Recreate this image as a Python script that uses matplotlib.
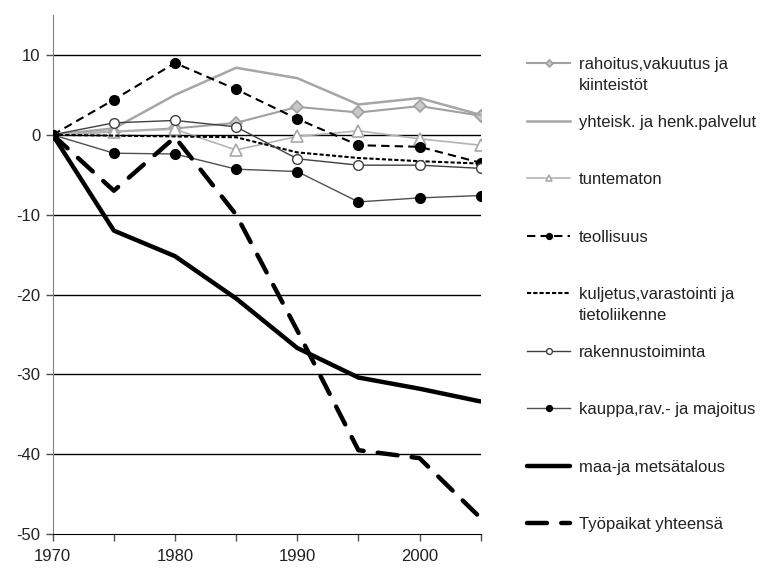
import matplotlib
matplotlib.use("Agg")
import matplotlib.pyplot as plt

plt.rcParams['font.family'] = ['Liberation Sans', 'DejaVu Sans']
plt.rcParams['axes.unicode_minus'] = False

# data (change since 1970)
years = [1970, 1975, 1980, 1985, 1990, 1995, 2000, 2005]
rahoitus = [0, 0.4, 0.8, 1.5, 3.5, 2.8, 3.6, 2.4]
yhteisk = [0, 0.8, 5.0, 8.4, 7.1, 3.8, 4.6, 2.5]
tuntematon = [0, 0.4, 0.7, -1.9, -0.2, 0.5, -0.5, -1.3]
teollisuus = [0, 4.4, 9.0, 5.7, 2.0, -1.3, -1.5, -3.5]
kuljetus = [0, -0.1, -0.2, -0.3, -2.2, -2.9, -3.3, -3.6]
rakennus = [0, 1.5, 1.8, 1.0, -3.0, -3.8, -3.8, -4.2]
kauppa = [0, -2.3, -2.4, -4.3, -4.6, -8.4, -7.9, -7.6]
maa = [0, -12.0, -15.2, -20.5, -26.7, -30.4, -31.8, -33.4]
tyopaikat = [0, -7.0, -0.3, -10.0, -24.5, -39.5, -40.5, -48.0]

labels = ["rahoitus,vakuutus ja", "yhteisk. ja henk.palvelut", "tuntematon",
          "teollisuus", "kuljetus,varastointi ja", "rakennustoiminta",
          "kauppa,rav.- ja majoitus", "maa-ja metsätalous", "Työpaikat yhteensä"]
extra = {0: "kiinteistöt", 4: "tietoliikenne"}

fig = plt.figure(figsize=(7.71, 5.69), dpi=100)
ax = fig.add_axes([0.0684, 0.0615, 0.555, 0.912])

for yv in range(-40, 11, 10):
    ax.axhline(yv, color='black', lw=1.0, zorder=1)

h = []
h += ax.plot(years, rahoitus, color='#a0a0a0', lw=1.5, marker='D', ms=6,
             mfc='#c8c8c8', mec='#a0a0a0', mew=1.2, zorder=3)
h += ax.plot(years, yhteisk, color='#a6a6a6', lw=1.8, zorder=3)
h += ax.plot(years, tuntematon, color='#b4b4b4', lw=1.2, marker='^', ms=8,
             mfc='white', mec='#a8a8a8', mew=1.2, zorder=3)
h += ax.plot(years, teollisuus, color='black', lw=1.5, ls=(0, (4, 2.5)),
             marker='o', ms=7, mfc='black', mec='black', zorder=4)
h += ax.plot(years, kuljetus, color='black', lw=1.5, ls=(0, (2, 1)), zorder=4)
h += ax.plot(years, rakennus, color='#404040', lw=1.0, marker='o', ms=7,
             mfc='white', mec='#404040', mew=1.0, zorder=4)
h += ax.plot(years, kauppa, color='#505050', lw=1.0, marker='o', ms=7,
             mfc='black', mec='black', zorder=4)
h += ax.plot(years, maa, color='black', lw=3.2, solid_capstyle='round', zorder=5)
h += ax.plot(years, tyopaikat, color='black', lw=3.2, ls=(0, (4.5, 3.2)),
             dash_capstyle='round', zorder=5)

ax.set_xlim(1970, 2005)
ax.set_ylim(-50, 15)
ax.set_xticks(years)
ax.set_xticklabels([str(y) if y % 10 == 0 else "" for y in years], fontsize=12)
ax.set_yticks(range(-50, 11, 10))
ax.set_yticklabels([str(v) for v in range(-50, 11, 10)], fontsize=12)
ax.tick_params(axis='both', direction='out', length=5, width=1, colors='#505050',
               labelcolor='#222222')
ax.tick_params(axis='x', pad=6)
ax.tick_params(axis='y', pad=4)
for s in ['top', 'right']:
    ax.spines[s].set_visible(False)
ax.spines['left'].set_color('#808080')
ax.spines['bottom'].set_color('black')

leg = fig.legend(h, labels, loc='upper left', bbox_to_anchor=(0.675, 0.911),
                 frameon=False, fontsize=12, handlelength=2.6, handletextpad=0.5,
                 labelspacing=2.55, markerscale=0.6, borderaxespad=0)
for t in leg.get_texts():
    t.set_color('#222222')

fig.canvas.draw()
inv = fig.transFigure.inverted()
for i, txt in extra.items():
    bb = leg.get_texts()[i].get_window_extent()
    x0, y0 = inv.transform((bb.x0, bb.y0 - 6))
    fig.text(x0, y0, txt, fontsize=12, va='top', ha='left', color='#222222')

fig.savefig("out.png", dpi=100)
